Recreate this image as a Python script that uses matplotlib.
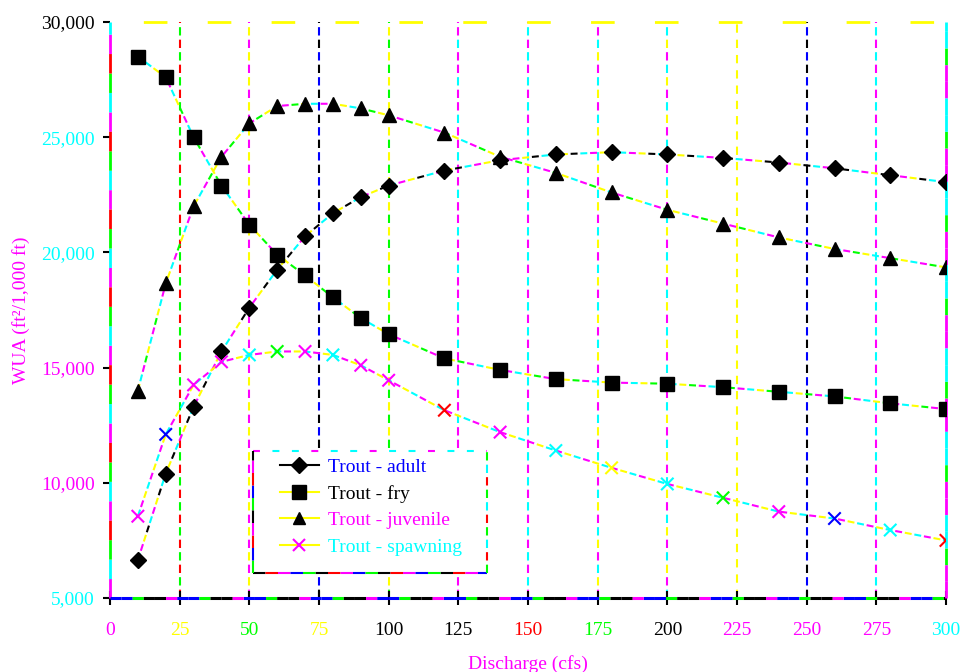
import numpy as np
import matplotlib
matplotlib.use("Agg")
import matplotlib.pyplot as plt
from matplotlib.lines import Line2D
from matplotlib.patches import Rectangle
from matplotlib.ticker import FuncFormatter

plt.rcParams['font.family'] = ['Liberation Serif', 'DejaVu Serif']
plt.rcParams['lines.scale_dashes'] = False

# discharge (cfs) and weighted usable area per life stage
discharge = [10, 20, 30, 40, 50, 60, 70, 80, 90, 100,
             120, 140, 160, 180, 200, 220, 240, 260, 280, 300]
adult = [6650, 10400, 13300, 15700, 17600, 19250, 20700, 21700, 22400, 22900,
         23550, 24000, 24250, 24350, 24250, 24100, 23900, 23650, 23350, 23050]
fry = [28500, 27600, 25000, 22900, 21200, 19900, 19000, 18050, 17150, 16450,
       15400, 14900, 14500, 14350, 14300, 14150, 13950, 13750, 13450, 13200]
juvenile = [14000, 18650, 22000, 24150, 25600, 26350, 26450, 26450, 26250, 25950,
            25200, 24150, 23450, 22600, 21850, 21250, 20650, 20150, 19750, 19350]
spawning = [8550, 12100, 14250, 15250, 15550, 15700, 15700, 15550, 15100, 14450,
            13150, 12200, 11400, 10650, 9950, 9350, 8750, 8450, 7950, 7500]

series_labels = ['Trout - adult', 'Trout - fry', 'Trout - juvenile', 'Trout - spawning']
x_ticks = list(range(0, 301, 25))
y_ticks = list(range(5000, 30001, 5000))


def multicolor(ax, x, y, colors, seg, gap=0.0, lw=1.5, **kw):
    # one dashed copy per colour, shifted so the colours follow each other
    step = seg + gap
    period = step * len(colors)
    for k, c in enumerate(colors):
        off = (period - k * step) % period
        ax.plot(x, y, color=c, lw=lw, dash_capstyle='butt', solid_capstyle='butt',
                linestyle=(off, (seg, period - seg)), **kw)


fig = plt.figure(figsize=(9.64, 6.72), dpi=100)
ax = fig.add_axes([0.1141, 0.1101, 0.8672, 0.8572])
ax.set_xlim(0, 300)
ax.set_ylim(5000, 30000)
for s in ax.spines.values():
    s.set_visible(False)

# vertical grid
grid_colors = [['red', 'lime'], ['magenta', 'yellow'], ['black', 'blue'],
               ['lime', 'yellow'], ['magenta', 'magenta', 'cyan'], ['magenta', 'cyan'],
               ['magenta', 'yellow', 'cyan'], ['cyan', 'magenta', 'yellow'], ['yellow'],
               ['black', 'blue'], ['magenta', 'cyan']]
for xv, cols in zip(x_ticks[1:-1], grid_colors):
    if len(cols) == 1:
        ax.plot([xv, xv], [5000, 30000], color=cols[0], lw=1.5,
                linestyle=(0, (6, 5)), zorder=1)
    else:
        multicolor(ax, [xv, xv], [5000, 30000], cols, seg=6, gap=3, lw=1.5, zorder=1)

# frame
multicolor(ax, [0, 0], [0, 1], ['magenta', 'cyan', 'lime', 'red'], seg=14, lw=2,
           transform=ax.transAxes, clip_on=False, zorder=3)
multicolor(ax, [0, 1], [0, 0], ['blue', 'blue', 'lime', 'black', 'black', 'magenta'],
           seg=8, lw=2.2, transform=ax.transAxes, clip_on=False, zorder=3)
multicolor(ax, [1, 1], [0, 1], ['magenta', 'magenta', 'lime', 'cyan', 'cyan'], seg=12,
           lw=2, transform=ax.transAxes, clip_on=False, zorder=3)
ax.plot([0, 1], [1, 1], color='yellow', lw=2, transform=ax.transAxes, clip_on=False,
        linestyle=(22, (17, 29)), zorder=3)

# series
multicolor(ax, discharge, fry, ['magenta', 'cyan', 'yellow', 'lime'], seg=5, gap=2, zorder=4)
multicolor(ax, discharge, adult, ['cyan', 'magenta', 'yellow', 'black'], seg=5, gap=2, zorder=4)
multicolor(ax, discharge, juvenile, ['yellow', 'cyan', 'magenta', 'lime'], seg=5, gap=2, zorder=4)
multicolor(ax, discharge, spawning, ['cyan', 'magenta', 'yellow'], seg=5, gap=2, zorder=4)

ax.plot(discharge, adult, ls='none', marker='D', ms=8.5, color='black', zorder=6)
ax.plot(discharge, fry, ls='none', marker='s', ms=10.5, color='black', zorder=6)
ax.plot(discharge, juvenile, ls='none', marker='^', ms=9.5, color='black', zorder=6)
x_colors = ['magenta', 'blue', 'magenta', 'magenta', 'cyan', 'lime', 'magenta', 'cyan',
            'magenta', 'magenta', 'red', 'magenta', 'cyan', 'yellow', 'cyan', 'lime',
            'magenta', 'blue', 'cyan', 'red']
ax.scatter(discharge, spawning, marker='x', s=80, c=x_colors, linewidths=1.5, zorder=6)

# ticks
ax.set_xticks(x_ticks)
ax.set_yticks(y_ticks)
ax.yaxis.set_major_formatter(FuncFormatter(lambda v, p: f'{int(v):,}'))
ax.tick_params(axis='y', direction='out', length=5, width=1.5, pad=6, labelsize=14)
ax.tick_params(axis='x', direction='inout', length=10, width=1.5, pad=12, labelsize=14)

ytick_colors = ['cyan', 'magenta', 'magenta', 'cyan', 'cyan', 'black']
for t, c in zip(ax.yaxis.get_major_ticks(), ytick_colors):
    t.tick1line.set_color('magenta' if c != 'magenta' else 'cyan')
    t.label1.set_color(c)
xtick_colors = ['magenta', 'yellow', 'lime', 'yellow', 'black', 'black', 'red',
                'lime', 'black', 'magenta', 'magenta', 'magenta', 'cyan']
xtick_marks = ['red', 'magenta', 'yellow', 'blue', 'magenta', 'magenta', 'cyan',
               'yellow', 'yellow', 'yellow', 'black', 'magenta', 'lime']
for t, c, m in zip(ax.xaxis.get_major_ticks(), xtick_colors, xtick_marks):
    t.tick1line.set_color(m)
    t.label1.set_color(c)

ax.set_xlabel('Discharge (cfs)', fontsize=14, color='magenta', labelpad=12)
ax.set_ylabel('WUA (ft²/1,000 ft)', fontsize=14, color='magenta', labelpad=8)

# legend box
bx, by, bw, bh = 0.171, 0.043, 0.280, 0.212
ax.add_patch(Rectangle((bx, by), bw, bh, transform=ax.transAxes, facecolor='white',
                       edgecolor='none', zorder=4.6))
multicolor(ax, [bx, bx + bw], [by + bh, by + bh], ['magenta', 'cyan', 'cyan'], seg=5, gap=9,
           transform=ax.transAxes, clip_on=False, zorder=4.7)
multicolor(ax, [bx, bx + bw], [by, by], ['black', 'red', 'magenta', 'blue', 'lime'], seg=9,
           transform=ax.transAxes, clip_on=False, zorder=4.7)
multicolor(ax, [bx, bx], [by, by + bh], ['lime', 'blue', 'red', 'magenta', 'black'], seg=9,
           transform=ax.transAxes, clip_on=False, zorder=4.7)
multicolor(ax, [bx + bw, bx + bw], [by, by + bh], ['lime', 'red', 'cyan'], seg=6, gap=3,
           transform=ax.transAxes, clip_on=False, zorder=4.7)

handles = [
    Line2D([], [], color='black', marker='D', ms=8, mfc='black', mec='black', lw=1.5),
    Line2D([], [], color='yellow', marker='s', ms=10, mfc='black', mec='black', lw=1.5),
    Line2D([], [], color='yellow', marker='^', ms=9, mfc='black', mec='black', lw=1.5),
    Line2D([], [], color='yellow', marker='x', ms=9, mec='magenta', mew=1.5, lw=1.5),
]
leg = ax.legend(handles, series_labels, loc='upper left', bbox_to_anchor=(0.203, 0.242),
                frameon=False, fontsize=14, borderpad=0, borderaxespad=0,
                handlelength=2.0, handletextpad=0.5, labelspacing=0.45)
leg.set_zorder(5)
for txt, c in zip(leg.get_texts(), ['blue', 'black', 'magenta', 'cyan']):
    txt.set_color(c)

fig.savefig('out.png', dpi=100)
